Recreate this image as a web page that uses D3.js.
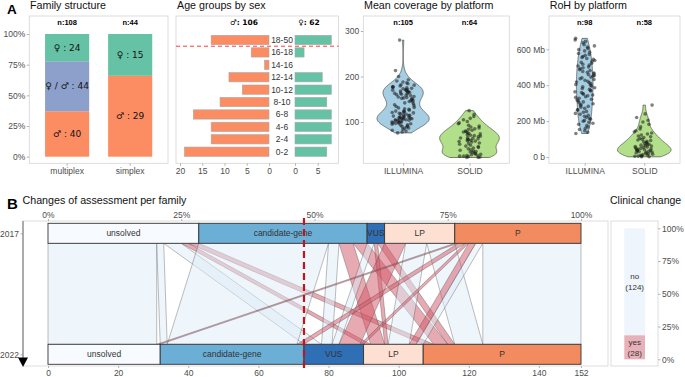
<!DOCTYPE html>
<meta charset="utf-8">
<script src="https://d3js.org/d3.v7.min.js"></script>
<style>
  body { margin: 0; background: #fff; }
  svg text { font-family: "Liberation Sans", Arial, sans-serif; }
  svg text.sym { font-family: "DejaVu Sans", "Liberation Sans", sans-serif; }
</style>
<svg id="chart" width="685" height="377"></svg>
<script>
// ---------------- data ----------------
// family structure (stacked bottom -> top)
const famTypes = ["multiplex", "simplex"];
const famGroups = ["♂", "♀ / ♂", "♀"];
const famMultiplex = [40, 44, 24];
const famSimplex = [29, 0, 15];

// age groups by sex
const ageGroups = ["0-2", "2-4", "4-6", "6-8", "8-10", "10-12", "12-14", "14-16", "16-18", "18-50"];
const ageMale = [19, 13, 13, 17, 11, 6, 9, 1, 4, 13];
const ageFemale = [7, 8, 8, 8, 7, 8, 6, 0, 2, 8];
const maleTicks = [20, 15, 10, 5, 0];
const femaleTicks = [0, 5];

// coverage / RoH per platform
const platforms = ["ILLUMINA", "SOLID"];
const covIllumina = [76, 78, 80, 82, 84, 86, 87, 89, 90, 91, 93, 94,
  95, 96, 97, 97, 98, 99, 100, 100, 101, 102, 103, 103, 104,
  105, 105, 106, 107, 107, 108, 108, 109, 109, 110, 111, 112, 112, 113, 114,
  115, 116, 117, 118, 119, 120, 121, 122, 123, 124, 124,
  126, 128, 129, 131, 132, 134, 136, 138, 140, 142, 144,
  145, 147, 148, 150, 151, 152, 153, 154,
  155, 156, 158, 159, 160, 161, 162, 163, 164,
  165, 166, 167, 168, 168, 169, 170, 171, 172, 173, 174,
  175, 176, 177, 178, 179, 181, 182, 184, 186, 188, 190, 193, 200, 213, 280];
const covSolid = [22, 22, 23, 24, 25, 25, 26, 27, 28, 29,
  30, 31, 33, 34, 35, 36, 38, 39, 41, 43, 44, 46, 47, 49,
  51, 53, 54, 56, 57, 58, 59, 60, 61, 62, 63, 64, 65, 66, 68, 69,
  70, 71, 72, 74, 75, 76, 78, 79, 80, 82, 84, 85, 87, 89,
  91, 93, 96, 98, 101, 105, 108, 112, 117, 125];
const covTicks = [100, 200, 300];
const rohIllumina = [131, 138, 146, 153, 160, 167, 175,
  182, 188, 193, 199, 204, 210, 215, 221, 227,
  232, 238, 243, 249, 254, 260, 265, 271, 277,
  282, 287, 292, 297, 302, 307, 312, 317, 322, 327,
  332, 336, 341, 345, 350, 354, 359, 363, 368, 372, 377,
  382, 386, 391, 395, 400, 404, 409, 413, 418, 422, 427,
  432, 436, 441, 445, 450, 454, 459, 463, 468, 472, 477,
  482, 487, 492, 497, 502, 507, 512, 517, 522, 527,
  533, 538, 544, 549, 555, 560, 566, 571, 577,
  584, 591, 598, 605, 612, 619, 626, 636, 644, 652, 661];
const rohSolid = [1, 2, 4, 5, 7, 9, 11, 13, 16, 18, 21, 24,
  26, 28, 30, 32, 34, 36, 38, 40, 42, 44, 46, 48,
  51, 53, 56, 58, 61, 63, 66, 68, 71, 73,
  78, 81, 85, 88, 92, 95, 99, 103, 108, 113, 117, 122,
  128, 134, 140, 146, 156, 168, 182, 195, 205, 220, 240, 289];
const rohTicks = [0, 200, 400, 600];

// assessment changes 2017 -> 2022 (from, to, families, clinical change)
const assessCats = ["unsolved", "candidate-gene", "VUS", "LP", "P"];
const years = ["2017", "2022"];
const flows = [
  ["unsolved", "unsolved", 31, "no"],
  ["unsolved", "candidate-gene", 2, "no"],
  ["unsolved", "VUS", 5, "no"],
  ["unsolved", "LP", 2, "yes"],
  ["unsolved", "P", 3, "yes"],
  ["candidate-gene", "candidate-gene", 37, "no"],
  ["candidate-gene", "VUS", 3, "no"],
  ["candidate-gene", "LP", 4, "yes"],
  ["candidate-gene", "P", 4, "yes"],
  ["VUS", "VUS", 2, "no"],
  ["VUS", "LP", 1, "yes"],
  ["VUS", "P", 2, "yes"],
  ["LP", "VUS", 6, "yes"],
  ["LP", "LP", 6, "no"],
  ["LP", "P", 8, "no"],
  ["P", "unsolved", 1, "yes"],
  ["P", "candidate-gene", 2, "yes"],
  ["P", "VUS", 1, "yes"],
  ["P", "LP", 2, "yes"],
  ["P", "LP", 2, "no"],
  ["P", "P", 28, "no"]
];
const changeCats = ["yes", "no"];
const pctTicks = [0, 0.25, 0.5, 0.75, 1];
const countTicks = [0, 20, 40, 60, 80, 100, 120, 140, 152];

// ---------------- helpers ----------------
const svg = d3.select("#chart");
const AXIS_TXT = "#4d4d4d", BORDER = "#d4d4d4", TICK = "#b3b3b3";

function frame(x0, y0, x1, y1) {
  svg.append("rect").attr("x", x0).attr("y", y0)
    .attr("width", x1 - x0).attr("height", y1 - y0)
    .attr("fill", "none").attr("stroke", BORDER).attr("stroke-width", 0.8);
}
function title(x, y, t, size) {
  svg.append("text").attr("x", x).attr("y", y).text(t)
    .style("font-size", (size || 10.7) + "px").attr("fill", "#111");
}
function styleAxis(g, size) {
  g.select(".domain").remove();
  g.selectAll(".tick line").attr("stroke", TICK);
  g.selectAll(".tick text").attr("fill", AXIS_TXT).style("font-size", (size || 8.5) + "px");
  return g;
}
function nrd0(v) {
  const s = v.slice().sort(d3.ascending);
  const sd = d3.deviation(s);
  const iqr = d3.quantile(s, 0.75) - d3.quantile(s, 0.25);
  let lo = Math.min(sd, iqr / 1.34);
  if (!lo) lo = sd || 1;
  return 0.9 * lo * Math.pow(s.length, -0.2);
}
function kde(values) {
  const bw = nrd0(values);
  return y => d3.mean(values, v => Math.exp(-0.5 * ((y - v) / bw) ** 2)) / (bw * Math.sqrt(2 * Math.PI));
}
// fixed pseudo-jitter in [-1, 1] (position only)
function jit(k, v) {
  const s = Math.sin((k + 1) * 12.9898 + v * 78.233) * 43758.5453;
  return (s - Math.floor(s)) * 2 - 1;
}

svg.append("text").attr("x", 7).attr("y", 13.5).text("A")
  .style("font-size", "13.5px").style("font-weight", "bold");
svg.append("text").attr("x", 7).attr("y", 208.5).text("B")
  .style("font-size", "15px").style("font-weight", "bold");

// ---------------- family structure ----------------
(function () {
  const x0 = 29.3, x1 = 168, y0 = 16, y1 = 163.3;
  frame(x0, y0, x1, y1);
  title(30, 9, "Family structure");
  const x = d3.scaleBand().domain(famTypes).range([x0, x1]).paddingInner(0.3).paddingOuter(0.25);
  const y = d3.scaleLinear().domain([0, 1]).range([156.7, 34]);
  const colors = d3.scaleOrdinal().domain(famGroups).range(["#fc8d62", "#8da0cb", "#66c2a5"]);
  const rows = famTypes.map((t, i) => {
    const vals = i === 0 ? famMultiplex : famSimplex;
    const r = { type: t, total: d3.sum(vals) };
    famGroups.forEach((g, j) => r[g] = vals[j]);
    return r;
  });
  const stack = d3.stack().keys(famGroups)
    .value((d, k) => d[k] / d.total)(rows);
  stack.forEach(layer => {
    layer.forEach(seg => {
      if (seg.data[layer.key] === 0) return;
      svg.append("rect").attr("x", x(seg.data.type)).attr("width", x.bandwidth())
        .attr("y", y(seg[1])).attr("height", y(seg[0]) - y(seg[1]))
        .attr("fill", colors(layer.key));
      svg.append("text").attr("class", "sym").attr("x", x(seg.data.type) + x.bandwidth() / 2)
        .attr("y", (y(seg[0]) + y(seg[1])) / 2).attr("dy", "0.35em")
        .attr("text-anchor", "middle").style("font-size", "9px").attr("fill", "#111")
        .text(layer.key + " : " + seg.data[layer.key]);
    });
  });
  rows.forEach(r => {
    svg.append("text").attr("x", x(r.type) + x.bandwidth() / 2).attr("y", 25)
      .attr("text-anchor", "middle").style("font-size", "7.5px").style("font-weight", "bold")
      .text("n:" + r.total);
  });
  styleAxis(svg.append("g").attr("transform", `translate(${x0},0)`)
    .call(d3.axisLeft(y).tickValues(pctTicks).tickFormat(d3.format(".0%")).tickSize(2.5).tickPadding(1.5)));
  styleAxis(svg.append("g").attr("transform", `translate(0,${y1})`)
    .call(d3.axisBottom(x).tickSize(2.5).tickPadding(2)));
})();

// ---------------- age groups by sex ----------------
(function () {
  const x0 = 176, x1 = 338.5, y0 = 16, y1 = 163.3;
  frame(x0, y0, x1, y1);
  title(177, 9, "Age groups by sex");
  const y = d3.scalePoint().domain(ageGroups).range([151.7, 40]);
  const xm = d3.scaleLinear().domain([0, 20]).range([269, 180]);
  const xf = d3.scaleLinear().domain([0, 5]).range([295, 317.7]);
  const bh = 9.3;
  ageGroups.forEach((g, i) => {
    if (ageMale[i] > 0)
      svg.append("rect").attr("x", xm(ageMale[i])).attr("width", xm(0) - xm(ageMale[i]))
        .attr("y", y(g) - bh / 2).attr("height", bh)
        .attr("fill", "#fc8d62").attr("stroke", "#a8a8a8").attr("stroke-width", 0.6);
    if (ageFemale[i] > 0)
      svg.append("rect").attr("x", xf(0)).attr("width", xf(ageFemale[i]) - xf(0))
        .attr("y", y(g) - bh / 2).attr("height", bh)
        .attr("fill", "#66c2a5").attr("stroke", "#a8a8a8").attr("stroke-width", 0.6);
    svg.append("text").attr("x", 282).attr("y", y(g)).attr("dy", "0.35em")
      .attr("text-anchor", "middle").style("font-size", "8.5px").attr("fill", "#333").text(g);
  });
  // adult cut
  const ya = (y("18-50") + y("16-18")) / 2;
  svg.append("line").attr("x1", x0).attr("x2", x1).attr("y1", ya).attr("y2", ya)
    .attr("stroke", "#ff3b3b").attr("stroke-width", 1).attr("stroke-dasharray", "4,3");
  svg.append("text").attr("class", "sym").attr("x", 244).attr("y", 25).attr("text-anchor", "middle")
    .style("font-size", "7.5px").style("font-weight", "bold").text("♂: " + d3.sum(ageMale));
  svg.append("text").attr("class", "sym").attr("x", 309).attr("y", 25).attr("text-anchor", "middle")
    .style("font-size", "7.5px").style("font-weight", "bold").text("♀: " + d3.sum(ageFemale));
  styleAxis(svg.append("g").attr("transform", `translate(0,${y1})`)
    .call(d3.axisBottom(xm).tickValues(maleTicks).tickFormat(d3.format("d")).tickSize(2.5).tickPadding(2)));
  styleAxis(svg.append("g").attr("transform", `translate(0,${y1})`)
    .call(d3.axisBottom(xf).tickValues(femaleTicks).tickFormat(d3.format("d")).tickSize(2.5).tickPadding(2)));
})();

// ---------------- violins ----------------
function violinPanel(o) {
  frame(o.x0, o.y0, o.x1, o.y1);
  title(o.x0 + 0.7, 9, o.title);
  const x = d3.scalePoint().domain(platforms).range([o.x0, o.x1]).padding(0.6);
  const step = x.step();
  const y = o.y;
  const sets = [o.a, o.b];
  const dens = sets.map(v => {
    const f = kde(v);
    const lo = d3.min(v), hi = d3.max(v);
    const grid = d3.range(256).map(i => lo + (hi - lo) * i / 255);
    return { f, pts: grid.map(g => [g, f(g)]) };
  });
  const maxD = d3.max(dens, d => d3.max(d.pts, p => p[1]));
  const hw = dv => dv / maxD * 0.45 * step;
  const fills = ["#a6cee3", "#b2df8a"];
  platforms.forEach((p, i) => {
    const cx = x(p);
    svg.append("path").datum(dens[i].pts)
      .attr("d", d3.area().y(d => y(d[0])).x0(d => cx - hw(d[1])).x1(d => cx + hw(d[1])))
      .attr("fill", fills[i]).attr("stroke", "#333").attr("stroke-width", 0.6);
    sets[i].forEach((v, k) => {
      svg.append("circle").attr("cx", cx + jit(k, v) * 0.17 * step).attr("cy", y(v))
        .attr("r", 1.8).attr("fill", "#1a1a1a").attr("fill-opacity", 0.55);
    });
    svg.append("text").attr("x", cx).attr("y", 25).attr("text-anchor", "middle")
      .style("font-size", "7.5px").style("font-weight", "bold").text("n:" + sets[i].length);
  });
  styleAxis(svg.append("g").attr("transform", `translate(${o.x0},0)`)
    .call(d3.axisLeft(y).tickValues(o.ticks).tickFormat(o.fmt).tickSize(2.5).tickPadding(1.5)));
  styleAxis(svg.append("g").attr("transform", `translate(0,${o.y1})`)
    .call(d3.axisBottom(x).tickSize(2.5).tickPadding(2)));
}
violinPanel({
  x0: 363.3, x1: 509.3, y0: 16, y1: 163.3, title: "Mean coverage by platform",
  y: d3.scaleLinear().domain([0, 300]).range([167.5, 31]),
  a: covIllumina, b: covSolid, ticks: covTicks, fmt: d3.format("d")
});
violinPanel({
  x0: 549, x1: 680, y0: 16, y1: 163.3, title: "RoH by platform",
  y: d3.scaleLinear().domain([0, 600]).range([157, 49.3]),
  a: rohIllumina, b: rohSolid, ticks: rohTicks, fmt: d => d === 0 ? "0 b" : d + " Mb"
});

// ---------------- B: alluvial ----------------
(function () {
  const fx0 = 23, fx1 = 608, fy0 = 221, fy1 = 366;
  frame(fx0, fy0, fx1, fy1);
  title(22.5, 203.5, "Changes of assessment per family");
  const total = d3.sum(flows, f => f[2]);
  const x = d3.scaleLinear().domain([0, total]).range([48, 581]);
  const pct = d3.scaleLinear().domain([0, 1]).range([48, 581]);
  const y = d3.scalePoint().domain(years).range([233.3, 354.3]);
  const sh = 10;
  const catIdx = c => assessCats.indexOf(c);
  const fl = flows.map(([from, to, n, change], i) => ({ from, to, n, change, i }));

  // lode positions
  let acc = 0;
  assessCats.forEach(c => {
    fl.filter(f => f.from === c).sort((a, b) => catIdx(a.to) - catIdx(b.to) || a.i - b.i)
      .forEach(f => { f.t0 = acc; acc += f.n; f.t1 = acc; });
  });
  acc = 0;
  assessCats.forEach(c => {
    fl.filter(f => f.to === c).sort((a, b) => catIdx(a.from) - catIdx(b.from) || a.i - b.i)
      .forEach(f => { f.b0 = acc; acc += f.n; f.b1 = acc; });
  });
  const yt = y("2017") + sh, yb = y("2022") - sh;
  const flowFill = { yes: "#d15566", no: "#deebf7" };
  svg.append("g").selectAll("path").data(fl).join("path")
    .attr("d", f => `M${x(f.t0)},${yt}L${x(f.t1)},${yt}L${x(f.b1)},${yb}L${x(f.b0)},${yb}Z`)
    .attr("fill", f => flowFill[f.change]).attr("fill-opacity", 0.5)
    .attr("stroke", "#4a4a4a").attr("stroke-opacity", 0.6).attr("stroke-width", 0.6);

  // strata
  const catFill = d3.scaleOrdinal().domain(assessCats)
    .range(["#f7fbff", "#6baed6", "#2f6fb5", "#fee0d2", "#f28b5f"]);
  years.forEach((yr, k) => {
    const counts = d3.rollup(fl, v => d3.sum(v, f => f.n), f => k === 0 ? f.from : f.to);
    let a = 0;
    assessCats.forEach(c => {
      const n = counts.get(c) || 0;
      svg.append("rect").attr("x", x(a)).attr("width", x(a + n) - x(a))
        .attr("y", y(yr) - sh).attr("height", 2 * sh)
        .attr("fill", catFill(c)).attr("stroke", "#333").attr("stroke-width", 0.9);
      svg.append("text").attr("x", x(a + n / 2)).attr("y", y(yr)).attr("dy", "0.35em")
        .attr("text-anchor", "middle").style("font-size", "8.5px").attr("fill", "#333").text(c);
      a += n;
    });
  });

  // cut line at the 2022 unsolved + candidate boundary
  const cut = d3.sum(fl.filter(f => catIdx(f.to) <= 1), f => f.n);
  svg.append("line").attr("x1", x(cut)).attr("x2", x(cut)).attr("y1", 218).attr("y2", 369)
    .attr("stroke", "#c0141e").attr("stroke-width", 2.2).attr("stroke-dasharray", "7,4");

  styleAxis(svg.append("g").attr("transform", `translate(0,${fy0})`)
    .call(d3.axisTop(pct).tickValues(pctTicks).tickFormat(d3.format(".0%")).tickSize(2).tickPadding(1.5)));
  styleAxis(svg.append("g").attr("transform", `translate(0,${fy1})`)
    .call(d3.axisBottom(x).tickValues(countTicks).tickSize(2).tickPadding(1.5)));
  styleAxis(svg.append("g").attr("transform", `translate(${fx0},0)`)
    .call(d3.axisLeft(y).tickSize(2.5).tickPadding(1.5)));
  svg.append("line").attr("x1", fx0).attr("x2", fx0).attr("y1", fy0).attr("y2", 358)
    .attr("stroke", "#9a9a9a").attr("stroke-width", 1.6);
  svg.append("path").attr("d", `M${fx0 - 5},357.5L${fx0 + 5},357.5L${fx0},367Z`).attr("fill", "#000");

  // clinical change panel
  const cx0 = 611, cx1 = 658;
  frame(cx0, fy0, cx1, fy1);
  title(610, 204, "Clinical change", 10.5);
  const cc = d3.rollup(fl, v => d3.sum(v, f => f.n), f => f.change);
  const yc = d3.scaleLinear().domain([0, 1]).range([359.3, 228.3]);
  const ccFill = { yes: "#e8b1b9", no: "#eef5fc" };
  let a = 0;
  changeCats.forEach(c => {
    const frac = cc.get(c) / total;
    svg.append("rect").attr("x", 624.3).attr("width", 20.7)
      .attr("y", yc(a + frac)).attr("height", yc(a) - yc(a + frac)).attr("fill", ccFill[c]);
    const ym = yc(a + frac / 2);
    svg.append("text").attr("x", 634.7).attr("y", ym - 5.5).attr("dy", "0.35em")
      .attr("text-anchor", "middle").style("font-size", "8px").attr("fill", "#333").text(c);
    svg.append("text").attr("x", 634.7).attr("y", ym + 5.5).attr("dy", "0.35em")
      .attr("text-anchor", "middle").style("font-size", "8px").attr("fill", "#333").text("(" + cc.get(c) + ")");
    a += frac;
  });
  styleAxis(svg.append("g").attr("transform", `translate(${cx1},0)`)
    .call(d3.axisRight(yc).tickValues(pctTicks).tickFormat(d3.format(".0%")).tickSize(2.5).tickPadding(1.5)));
})();
</script>
